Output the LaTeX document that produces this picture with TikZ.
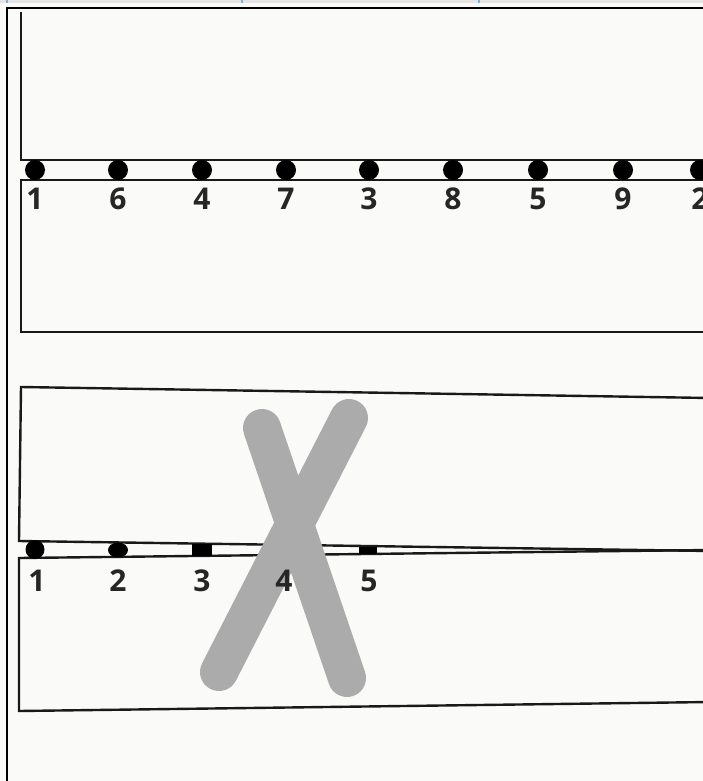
\documentclass[tikz,border=0pt]{standalone}
\usepackage{fontspec}
\setmainfont{Open Sans}
\usepackage{tikz}
\usetikzlibrary{positioning, shapes.geometric}

\definecolor{paper}{rgb}{0.98,0.98,0.972}
\definecolor{crossgray}{rgb}{0.67,0.67,0.67}
\definecolor{tickblue}{rgb}{0.45,0.7,0.9}

\begin{document}
\begin{tikzpicture}[
			x=1pt, y=-1pt,
			edge/.style={line width=2.4pt, black!90},
			frame line/.style={line width=1.3pt, black},
			pin/.style={fill=black, inner sep=0pt},
			num/.style={font=\fontsize{30}{30}\selectfont\bfseries, text=black!85, inner sep=0pt, anchor=center},
			stroke/.style={line width=38pt, crossgray, line cap=round}
			]
			\useasboundingbox[fill=paper] (0,0) rectangle (703,781);
			
			% --- page frame ---
			\fill[black!10] (0,0) rectangle (703,3);
			\foreach \t in {7,242,479}
				\draw[tickblue, line width=1.2pt] (\t,0) -- (\t,3);
			\draw[frame line] (703,8) -- (7,8) -- (7,781);
			
			% --- TOP PANEL: strips in line ---
			\draw[edge] (21,12) -- (21,160) -- (710,160);
			\draw[edge] (710,180) -- (21,180) -- (21,332) -- (710,332);
			
			% dots and numbers
			\foreach \i/\x/\n in {1/35/1, 2/118/6, 3/202/4, 4/286/7, 5/369/3, 6/453/8, 7/538/5, 8/623/9, 9/700/2}{
				\node[pin, circle, minimum size=20pt] (top\i) at (\x,170) {};
				\node[num] (topnum\i) at (\x,199) {\n};
			}
			
			% --- BOTTOM PANEL: strips out of line ---
			\draw[edge] (710,398) -- (21,387) -- (19,541) -- (710,551);
			\draw[edge] (710,550) -- (19,558) -- (19,711) -- (710,702);
			
			% dots get squeezed as the gap closes
			\node[pin, circle, minimum size=19pt] (bot1) at (35,549.5) {};
			\node[pin, ellipse, minimum width=20pt, minimum height=15pt] (bot2) at (118,550) {};
			\node[pin, rectangle, minimum width=20pt, minimum height=12pt] (bot3) at (202,550) {};
			\node[pin, rectangle, minimum width=18pt, minimum height=7pt] (bot5) at (368,550.5) {};
			
			% the cross
			\draw[stroke] (262,428) -- (347,678);
			\draw[stroke] (349,418) -- (219,672);
			
			\foreach \i/\x in {1/37, 2/118, 3/202, 4/284, 5/369}
				\node[num] (botnum\i) at (\x,581) {\i};
			
		\end{tikzpicture}
\end{document}
